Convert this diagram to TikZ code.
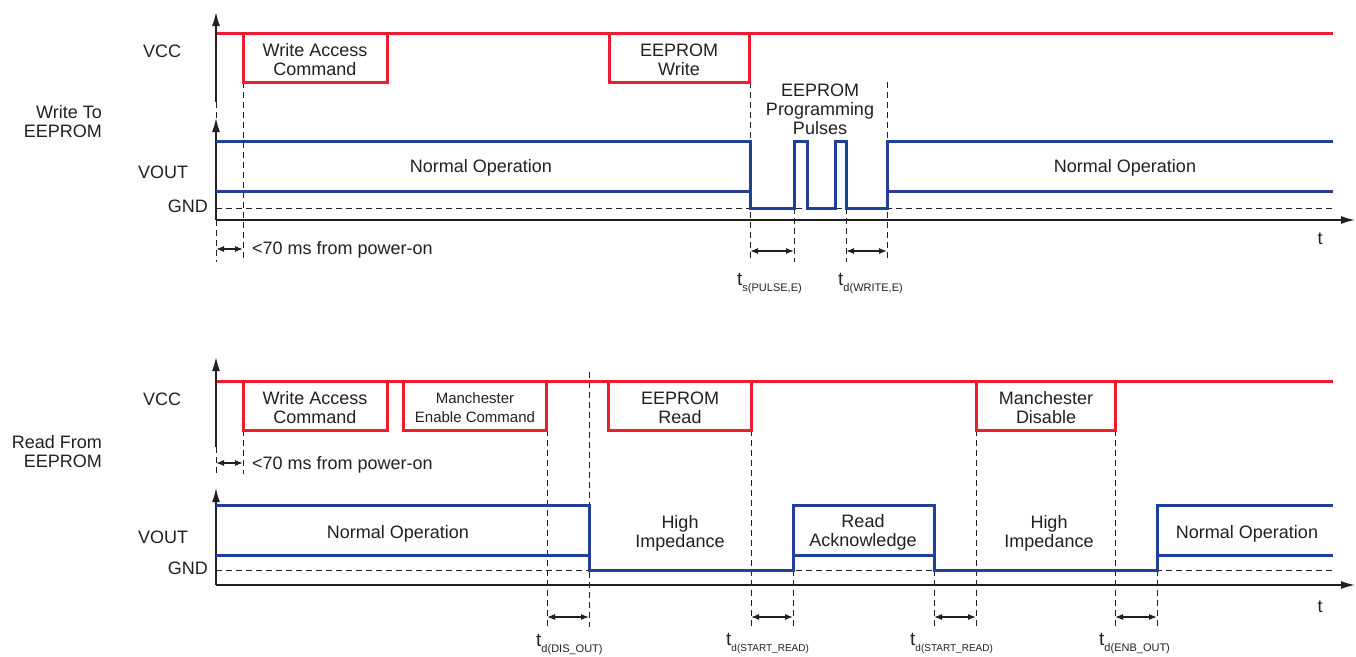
\documentclass[tikz,border=0pt]{standalone}
\usepackage{fontspec}
\setmainfont{Liberation Sans}
\usetikzlibrary{arrows.meta}
\definecolor{vred}{RGB}{237,28,46}
\definecolor{vblue}{RGB}{35,64,152}
\definecolor{ink}{RGB}{35,31,32}
\tikzset{
  redsig/.style={line width=3pt, line join=miter, vred},
  bluesig/.style={line width=3pt, line join=miter, vblue},
  axisline/.style={line width=1.5pt, ink, -{Latex[length=14pt,width=8pt]}},
  guide/.style={ink, line width=0.9pt, dash pattern=on 6pt off 4pt},
  dimarrow/.style={ink, line width=1.2pt, {Latex[length=8pt,width=6pt]}-{Latex[length=8pt,width=6pt]}},
  lbl/.style={font=\fontsize{18}{19}\selectfont, text=ink, align=center, inner sep=0pt, yshift=-2pt},
  smalllbl/.style={font=\fontsize{15}{19}\selectfont, text=ink, align=center, inner sep=0pt, yshift=-2pt},
  sidelbl/.style={font=\fontsize{18}{19}\selectfont, text=ink, align=right, inner sep=0pt, anchor=east, yshift=-2pt},
  tlbl/.style={anchor=base west, inner sep=0pt, text=ink}
}
\newcommand{\tsub}[2]{{\fontsize{19}{19}\selectfont t}\raisebox{-6pt}{\fontsize{#2}{#2}\selectfont #1}}
\begin{document}
\begin{tikzpicture}[x=1pt,y=-1pt]
\useasboundingbox (0,0) rectangle (1356,656);

% ================= TOP PANEL: Write To EEPROM =================
\coordinate (tO) at (216,220);
\coordinate (tVccBot) at (216,102);
\coordinate (tVccTip) at (216,12);
\coordinate (tVoutTip) at (216,118);
\coordinate (tEnd) at (1355,220);

% dashed guides
\draw[guide] (216,208) -- (1333,208);
\draw[guide] (216,102) -- (216,118);
\draw[guide] (216,220) -- (216,262);
\draw[guide] (243,82) -- (243,262);
\draw[guide] (750,82) -- (750,262);
\draw[guide] (794,208) -- (794,262);
\draw[guide] (846,208) -- (846,262);
\draw[guide] (887,82) -- (887,262);

% axes
\draw[axisline] (tVccBot) -- (tVccTip);
\draw[axisline] (tO) -- (tVoutTip);
\draw[axisline] (tO) -- (tEnd);

% VCC signal
\draw[redsig] (217,33) -- (1333,33);
\draw[redsig] (243,33) rectangle (387,82);
\draw[redsig] (609,33) rectangle (749,82);

% VOUT signal
\draw[bluesig] (216,141) -- (750,141) -- (750,208) -- (794,208) -- (794,141) -- (807,141)
  -- (807,208) -- (835,208) -- (835,141) -- (846,141) -- (846,208) -- (887,208)
  -- (887,141) -- (1333,141);
\draw[bluesig] (216,191) -- (750,191);
\draw[bluesig] (887,191) -- (1333,191);

% dimension arrows
\coordinate (ta1) at (216,249); \coordinate (ta2) at (243,249);
\coordinate (tb1) at (750,251); \coordinate (tb2) at (794,251);
\coordinate (tc1) at (846,251); \coordinate (tc2) at (887,251);
\draw[dimarrow] (ta1) -- (ta2);
\draw[dimarrow] (tb1) -- (tb2);
\draw[dimarrow] (tc1) -- (tc2);

% labels
\node[lbl] (tvcc) at (162,49) {VCC};
\node[sidelbl] (twrite) at (102,120) {Write To\\EEPROM};
\node[lbl] (tvout) at (163,170) {VOUT};
\node[sidelbl] (tgnd) at (208,204) {GND};
\node[lbl] (twac) at (315,58) {Write Access\\Command};
\node[lbl] (tew) at (679,58) {EEPROM\\Write};
\node[lbl] (tepp) at (820,107) {EEPROM\\Programming\\Pulses};
\node[lbl] (tno1) at (481,166) {Normal Operation};
\node[lbl] (tno2) at (1125,166) {Normal Operation};
\node[lbl, anchor=west] (t70) at (252,248) {<70 ms from power-on};
\node[lbl] (tt) at (1320,237) {t};
\node[tlbl] (tspulse) at (737,285) {\tsub{s(PULSE,E)}{11}};
\node[tlbl] (tdwrite) at (838,285) {\tsub{d(WRITE,E)}{11}};

% ================= BOTTOM PANEL: Read From EEPROM =================
\coordinate (bO) at (216,585);
\coordinate (bVccBot) at (216,447);
\coordinate (bVccTip) at (216,357);
\coordinate (bVoutTip) at (216,488);
\coordinate (bEnd) at (1355,585);

% dashed guides
\draw[guide] (216,570) -- (1333,570);
\draw[guide] (216,447) -- (216,474);
\draw[guide] (243,430) -- (243,474);
\draw[guide] (547,430) -- (547,627);
\draw[guide] (589,372) -- (589,627);
\draw[guide] (751,430) -- (751,627);
\draw[guide] (793,570) -- (793,627);
\draw[guide] (934,570) -- (934,627);
\draw[guide] (976,430) -- (976,627);
\draw[guide] (1115,430) -- (1115,627);
\draw[guide] (1157,570) -- (1157,627);

% axes
\draw[axisline] (bVccBot) -- (bVccTip);
\draw[axisline] (bO) -- (bVoutTip);
\draw[axisline] (bO) -- (bEnd);

% VCC signal
\draw[redsig] (217,381) -- (1333,381);
\draw[redsig] (243,381) rectangle (387,430);
\draw[redsig] (403,381) rectangle (546,430);
\draw[redsig] (608,381) rectangle (751,430);
\draw[redsig] (976,381) rectangle (1115,430);

% VOUT signal
\draw[bluesig] (216,505) -- (589,505) -- (589,570) -- (793,570) -- (793,505) -- (934,505)
  -- (934,570) -- (1157,570) -- (1157,505) -- (1333,505);
\draw[bluesig] (216,555) -- (589,555);
\draw[bluesig] (793,555) -- (934,555);
\draw[bluesig] (1157,555) -- (1333,555);

% dimension arrows
\coordinate (ba1) at (216,463); \coordinate (ba2) at (243,463);
\coordinate (bb1) at (547,617); \coordinate (bb2) at (589,617);
\coordinate (bc1) at (751,617); \coordinate (bc2) at (793,617);
\coordinate (bd1) at (934,617); \coordinate (bd2) at (976,617);
\coordinate (be1) at (1115,617); \coordinate (be2) at (1157,617);
\draw[dimarrow] (ba1) -- (ba2);
\draw[dimarrow] (bb1) -- (bb2);
\draw[dimarrow] (bc1) -- (bc2);
\draw[dimarrow] (bd1) -- (bd2);
\draw[dimarrow] (be1) -- (be2);

% labels
\node[lbl] (bvcc) at (162,397) {VCC};
\node[sidelbl] (bread) at (102,450) {Read From\\EEPROM};
\node[lbl] (bvout) at (163,535) {VOUT};
\node[sidelbl] (bgnd) at (208,566) {GND};
\node[lbl] (bwac) at (315,406) {Write Access\\Command};
\node[smalllbl] (bmec) at (475,406) {Manchester\\Enable Command};
\node[lbl] (ber) at (680,406) {EEPROM\\Read};
\node[lbl] (bmd) at (1046,406) {Manchester\\Disable};
\node[lbl, anchor=west] (b70) at (252,463) {<70 ms from power-on};
\node[lbl] (bno1) at (398,532) {Normal Operation};
\node[lbl] (bhi1) at (680,531) {High\\Impedance};
\node[lbl] (bra) at (863,530) {Read\\Acknowledge};
\node[lbl] (bhi2) at (1049,531) {High\\Impedance};
\node[lbl] (bno2) at (1247,532) {Normal Operation};
\node[lbl] (bt) at (1320,605) {t};
\node[tlbl] (bdis) at (536,646) {\tsub{d(DIS\_OUT)}{11}};
\node[tlbl] (bsr1) at (726,645) {\tsub{d(START\_READ)}{10}};
\node[tlbl] (bsr2) at (910,645) {\tsub{d(START\_READ)}{10}};
\node[tlbl] (benb) at (1099,645) {\tsub{d(ENB\_OUT)}{11}};
\end{tikzpicture}
\end{document}
